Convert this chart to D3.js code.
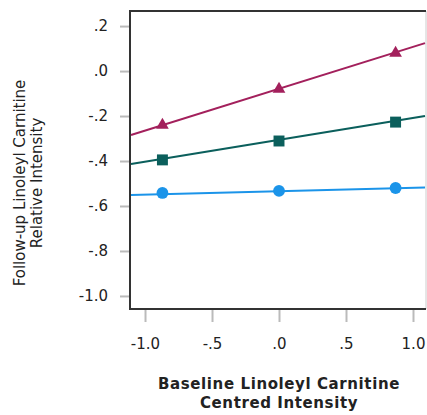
<!DOCTYPE html>
<html>
<head>
<meta charset="utf-8">
<script src="https://cdn.jsdelivr.net/npm/d3@7.9.0/dist/d3.min.js"></script>
<style>
  body { margin: 0; background: #fff; }
  svg text { font-family: "DejaVu Sans", sans-serif; fill: #222; }
</style>
</head>
<body>
<svg id="chart" width="427" height="415"></svg>
<script>
// x positions of the markers (baseline, centred)
const xPoints = [-0.87, 0, 0.87];

// series
const seriesNames  = ["high", "mid", "low"];
const highValues   = [-0.24, -0.08, 0.08];
const midValues    = [-0.395, -0.311, -0.227];
const lowValues    = [-0.542, -0.533, -0.52];

// fitted line values at the left and right frame edges
const lineLeft  = [-0.284, -0.413, -0.551];
const lineRight = [0.124, -0.2, -0.518];

const xTicks = [-1.0, -0.5, 0, 0.5, 1.0];
const yTicks = [0.2, 0, -0.2, -0.4, -0.6, -0.8, -1.0];

const colors  = ["#a3205c", "#0b5f5c", "#1b94e9"];
const symbols = [d3.symbolTriangle, d3.symbolSquare, d3.symbolCircle];
const sizes   = [70, 120, 110];

const svg = d3.select("#chart");
const mLeft = 130, mRight = 426, mTop = 11, mBottom = 309;

const x = d3.scaleLinear().domain([-1.112, 1.097]).range([mLeft, mRight]);
const y = d3.scaleLinear().domain([-1.058, 0.267]).range([mBottom, mTop]);

// SPSS style labels: "-.2", ".0", "1.0" with a plain hyphen
const fmt = d => {
  let s = Math.abs(d).toFixed(1);
  if (Math.abs(d) < 1) s = s.replace("0.", ".");
  return (d < 0 ? "-" : "") + s;
};

// axes
const yAxis = d3.axisLeft(y).tickValues(yTicks).tickSize(9).tickPadding(12).tickFormat(fmt);
const xAxis = d3.axisBottom(x).tickValues(xTicks).tickSize(12).tickPadding(16).tickFormat(fmt);

const gy = svg.append("g").attr("transform", `translate(${mLeft - 1},0)`).call(yAxis);
const gx = svg.append("g").attr("transform", `translate(0,${mBottom + 1})`).call(xAxis);
[gy, gx].forEach(g => {
  g.select(".domain").remove();
  g.selectAll(".tick line").attr("stroke", "#bbb").attr("stroke-width", 2);
  g.selectAll(".tick text").attr("font-size", 15).attr("fill", "#222")
    .attr("font-family", "DejaVu Sans, sans-serif");
});

// frame
svg.append("line").attr("x1", mRight).attr("x2", mRight).attr("y1", mTop).attr("y2", mBottom)
  .attr("stroke", "#ccc").attr("stroke-width", 1);
svg.append("path")
  .attr("d", `M${mRight},${mTop}H${mLeft}V${mBottom}H${mRight}`)
  .attr("fill", "none").attr("stroke", "#333").attr("stroke-width", 2);

const allValues = [highValues, midValues, lowValues];

const plot = svg.append("g");
seriesNames.forEach((name, i) => {
  plot.append("line")
    .attr("x1", mLeft + 1)
    .attr("y1", y(lineLeft[i]))
    .attr("x2", mRight - 1)
    .attr("y2", y(lineRight[i]))
    .attr("stroke", colors[i]).attr("stroke-width", 2);

  plot.selectAll(".pt-" + name)
    .data(allValues[i].map((v, j) => [xPoints[j], v]))
    .enter().append("path")
    .attr("transform", d => `translate(${x(d[0])},${y(d[1])})`)
    .attr("d", d3.symbol().type(symbols[i]).size(sizes[i]))
    .attr("fill", colors[i]);
});

// titles
svg.append("text")
  .attr("transform", "translate(25,183) rotate(-90)")
  .attr("text-anchor", "middle").attr("font-size", 15)
  .text("Follow-up Linoleyl Carnitine");
svg.append("text")
  .attr("transform", "translate(42,183) rotate(-90)")
  .attr("text-anchor", "middle").attr("font-size", 15)
  .text("Relative Intensity");

svg.append("text").attr("x", 279).attr("y", 389)
  .attr("text-anchor", "middle").attr("font-size", 15).attr("font-weight", "bold")
  .attr("letter-spacing", 0.6)
  .text("Baseline Linoleyl Carnitine");
svg.append("text").attr("x", 279).attr("y", 408)
  .attr("text-anchor", "middle").attr("font-size", 15).attr("font-weight", "bold")
  .attr("letter-spacing", 0.6)
  .text("Centred Intensity");
</script>
</body>
</html>
